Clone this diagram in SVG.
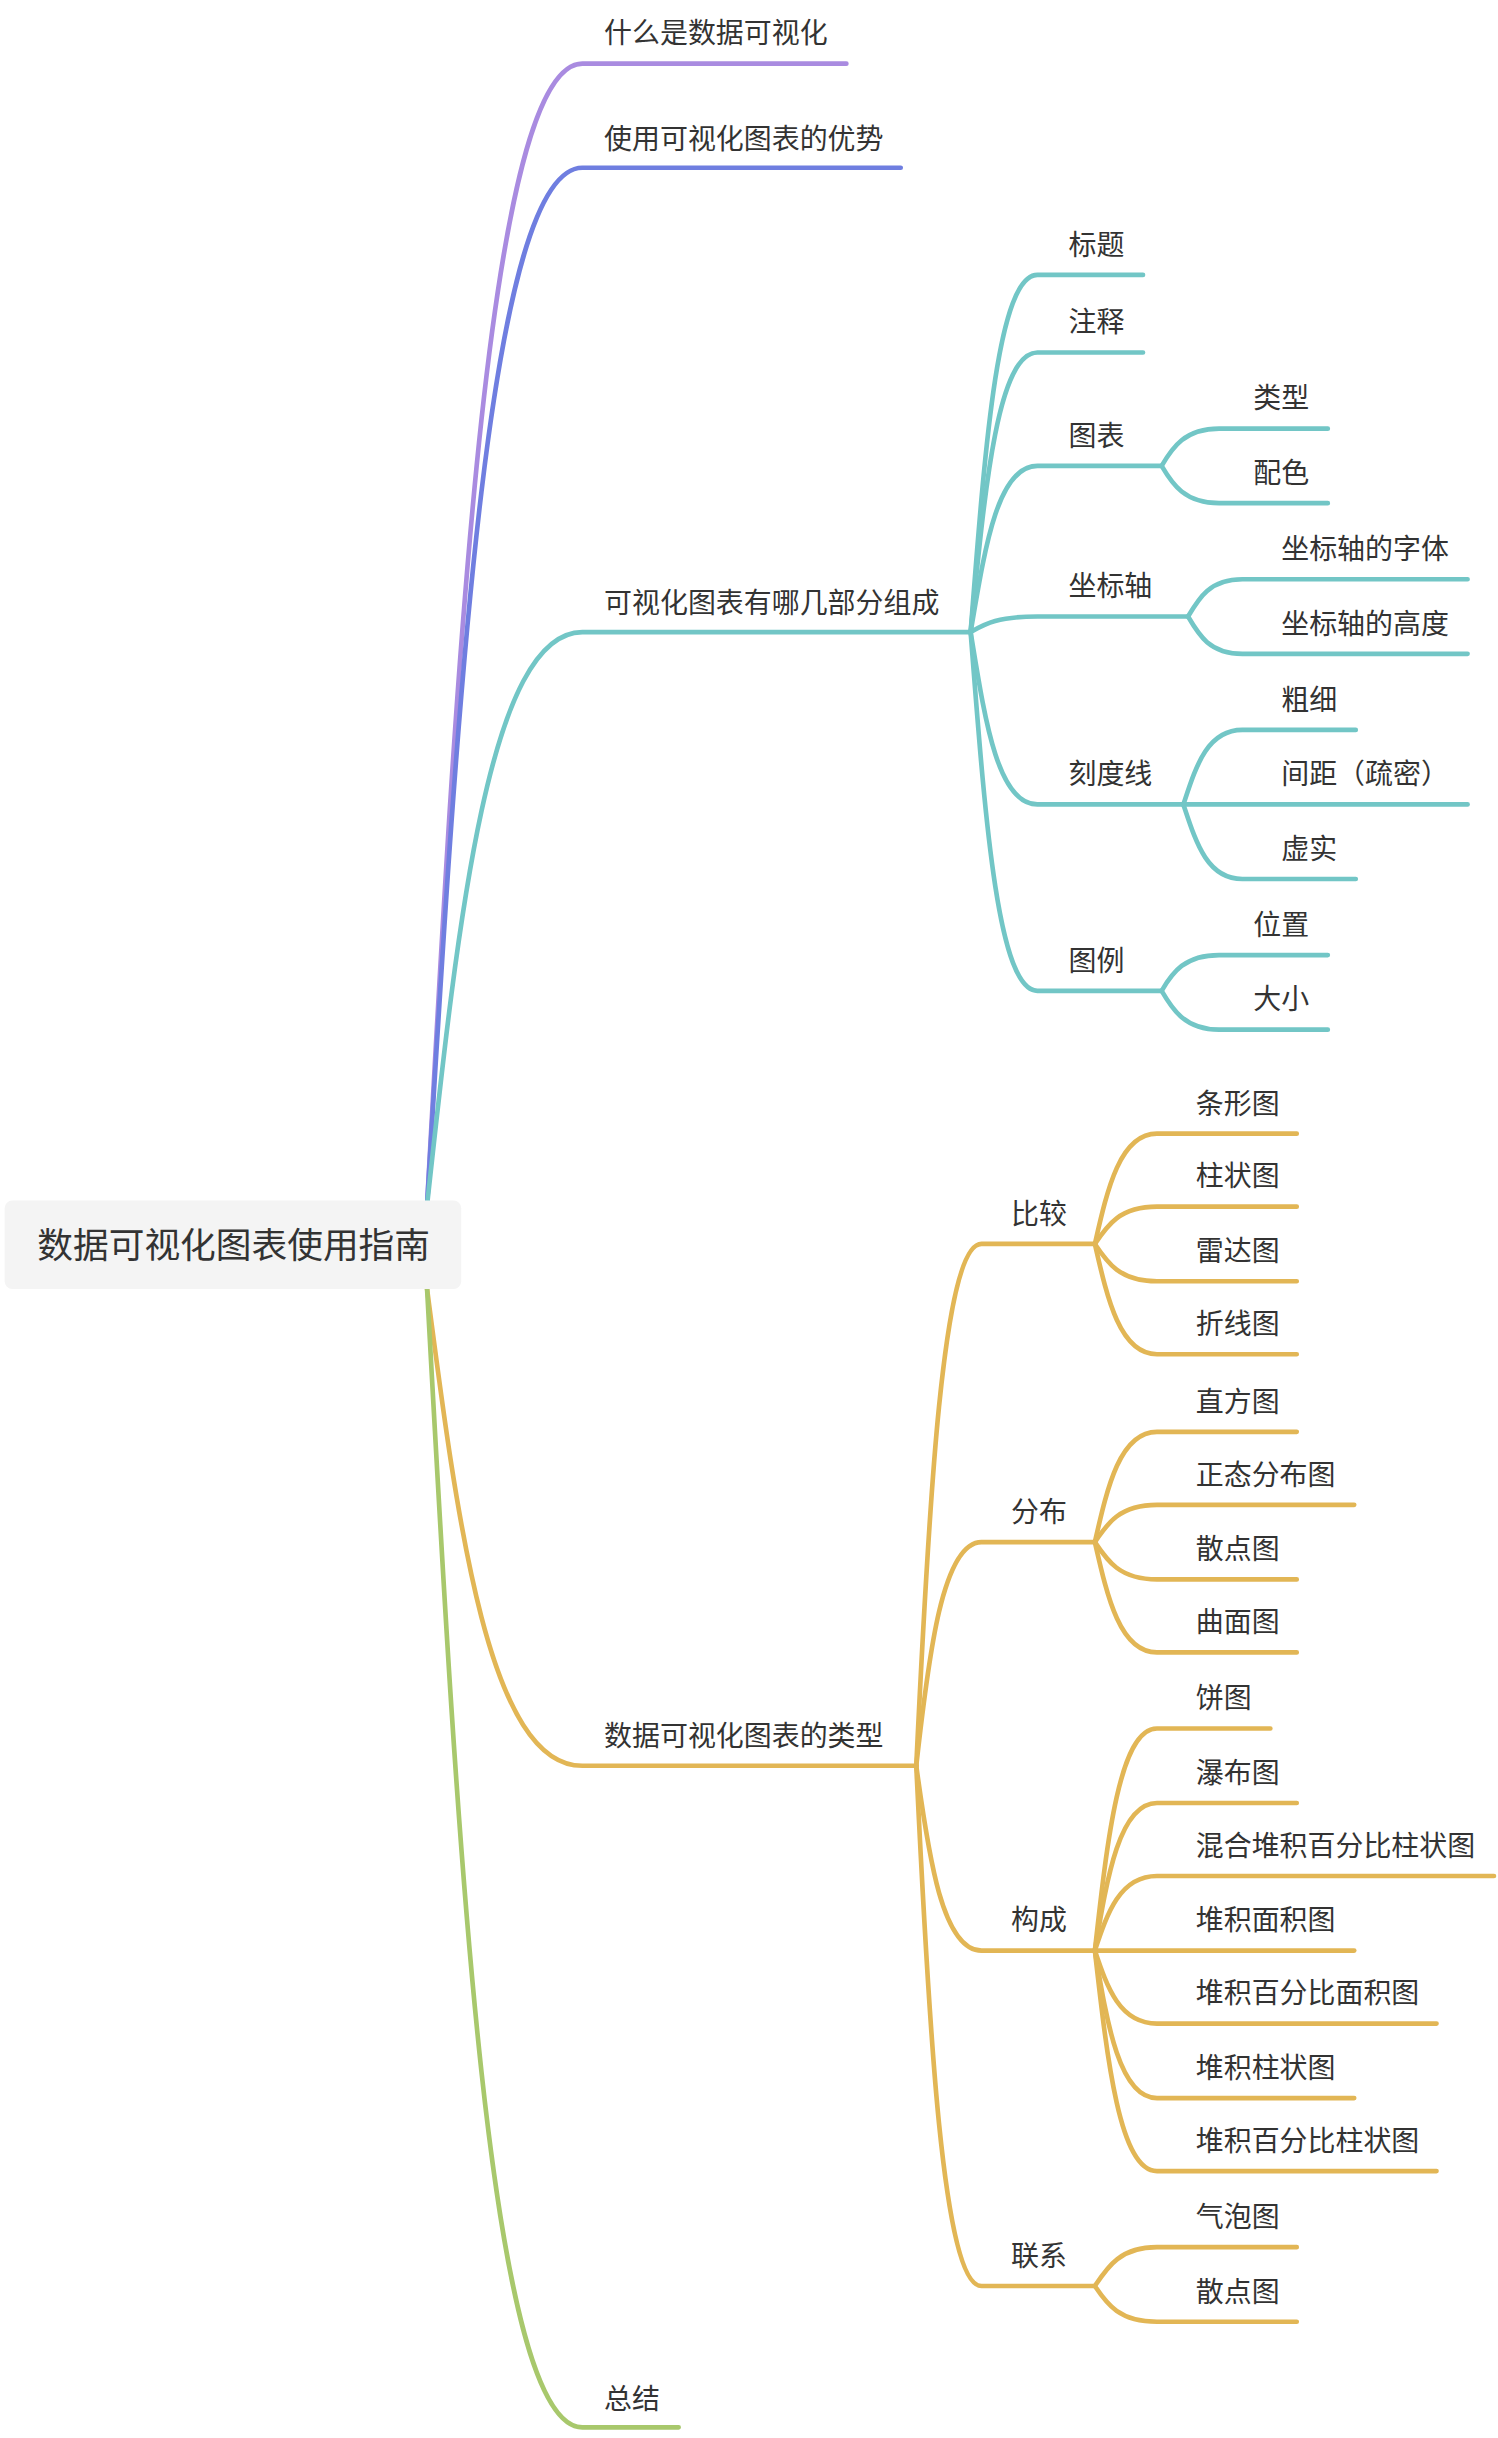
<svg xmlns="http://www.w3.org/2000/svg" width="1498" height="2438" viewBox="0 0 1498 2438">
<style>
text{font-family:"Noto Sans CJK SC","Noto Sans",sans-serif;font-size:18px;fill:#333}
.r{font-size:23px}
path{fill:none;stroke-width:3;stroke-linecap:round}
.pu{stroke:#a98be0}.bl{stroke:#6f7ee0}.te{stroke:#72c6c6}.go{stroke:#e2b655}.gr{stroke:#a8c86c}
</style>
<rect width="1498" height="2438" fill="#fff"/>
<g transform="scale(1.553)">
<g id="connectors">
<path class="pu" d="M275 776 C295 408 315 41 375 41 H545"/>
<path class="bl" d="M275 776 C295 442 315 108 375 108 H580"/>
<path class="te" d="M275 776 C295 592 315 407 375 407 H625"/>
<path class="go" d="M275 830 C295 984 315 1137 375 1137 H590"/>
<path class="gr" d="M275 830 C295 1196 315 1563 375 1563 H437"/>
<path class="te" d="M625 407 C634 292 642 177 668 177 H736"/>
<path class="te" d="M625 407 C634 317 642 227 668 227 H736"/>
<path class="te" d="M625 407 C634 354 642 300 668 300 H748"/>
<path class="te" d="M625 407 C634 402 642 397 668 397 H765"/>
<path class="te" d="M625 407 C634 462 642 518 668 518 H762"/>
<path class="te" d="M625 407 C634 522 642 638 668 638 H748"/>
<path class="te" d="M748 300 C755 288 763 276 785 276 H855"/>
<path class="te" d="M748 300 C755 312 763 324 785 324 H855"/>
<path class="te" d="M765 397 C772 385 779 373 800 373 H945"/>
<path class="te" d="M765 397 C772 409 779 421 800 421 H945"/>
<path class="te" d="M762 518 C770 494 777 470 800 470 H873"/>
<path class="te" d="M762 518 H945"/>
<path class="te" d="M762 518 C770 542 777 566 800 566 H873"/>
<path class="te" d="M748 638 C755 626 763 615 785 615 H855"/>
<path class="te" d="M748 638 C755 650 763 663 785 663 H855"/>
<path class="go" d="M590 1137 C598 969 607 801 632 801 H705"/>
<path class="go" d="M590 1137 C598 1065 607 993 632 993 H705"/>
<path class="go" d="M590 1137 C598 1196 607 1256 632 1256 H705"/>
<path class="go" d="M590 1137 C598 1304 607 1472 632 1472 H705"/>
<path class="go" d="M705 801 C713 766 721 730 745 730 H835"/>
<path class="go" d="M705 801 C713 789 721 777 745 777 H835"/>
<path class="go" d="M705 801 C713 813 721 825 745 825 H835"/>
<path class="go" d="M705 801 C713 836 721 872 745 872 H835"/>
<path class="go" d="M705 993 C713 958 721 922 745 922 H835"/>
<path class="go" d="M705 993 C713 981 721 969 745 969 H872"/>
<path class="go" d="M705 993 C713 1005 721 1017 745 1017 H835"/>
<path class="go" d="M705 993 C713 1028 721 1064 745 1064 H835"/>
<path class="go" d="M705 1256 C713 1184 721 1113 745 1113 H818"/>
<path class="go" d="M705 1256 C713 1208 721 1161 745 1161 H835"/>
<path class="go" d="M705 1256 C713 1232 721 1208 745 1208 H962"/>
<path class="go" d="M705 1256 H872"/>
<path class="go" d="M705 1256 C713 1280 721 1303 745 1303 H925"/>
<path class="go" d="M705 1256 C713 1304 721 1351 745 1351 H872"/>
<path class="go" d="M705 1256 C713 1327 721 1398 745 1398 H925"/>
<path class="go" d="M705 1472 C713 1460 721 1447 745 1447 H835"/>
<path class="go" d="M705 1472 C713 1484 721 1495 745 1495 H835"/>
</g>
<g id="root"><rect x="3" y="773" width="294" height="57" rx="5" fill="#f4f4f4"/><text class="r" x="24" y="810">数据可视化图表使用指南</text></g>
<g id="n1"><text x="389" y="28">什么是数据可视化</text></g>
<g id="n2"><text x="389" y="96">使用可视化图表的优势</text></g>
<g id="n3"><text x="389" y="395">可视化图表有哪几部分组成</text></g>
<g id="n4"><text x="389" y="1124">数据可视化图表的类型</text></g>
<g id="n5"><text x="389" y="1551">总结</text></g>
<g id="t1"><text x="688" y="164">标题</text></g>
<g id="t2"><text x="688" y="214">注释</text></g>
<g id="t3"><text x="688" y="287">图表</text></g>
<g id="t4"><text x="688" y="384">坐标轴</text></g>
<g id="t5"><text x="688" y="505">刻度线</text></g>
<g id="t6"><text x="688" y="625">图例</text></g>
<g id="t31"><text x="807" y="263">类型</text></g>
<g id="t32"><text x="807" y="311">配色</text></g>
<g id="t41"><text x="825" y="360">坐标轴的字体</text></g>
<g id="t42"><text x="825" y="408">坐标轴的高度</text></g>
<g id="t51"><text x="825" y="457">粗细</text></g>
<g id="t52"><text x="825" y="505">间距（疏密）</text></g>
<g id="t53"><text x="825" y="553">虚实</text></g>
<g id="t61"><text x="807" y="602">位置</text></g>
<g id="t62"><text x="807" y="650">大小</text></g>
<g id="g1"><text x="651" y="788">比较</text></g>
<g id="g2"><text x="651" y="980">分布</text></g>
<g id="g3"><text x="651" y="1243">构成</text></g>
<g id="g4"><text x="651" y="1459">联系</text></g>
<g id="g11"><text x="770" y="717">条形图</text></g>
<g id="g12"><text x="770" y="764">柱状图</text></g>
<g id="g13"><text x="770" y="812">雷达图</text></g>
<g id="g14"><text x="770" y="859">折线图</text></g>
<g id="g21"><text x="770" y="909">直方图</text></g>
<g id="g22"><text x="770" y="956">正态分布图</text></g>
<g id="g23"><text x="770" y="1004">散点图</text></g>
<g id="g24"><text x="770" y="1051">曲面图</text></g>
<g id="g31"><text x="770" y="1100">饼图</text></g>
<g id="g32"><text x="770" y="1148">瀑布图</text></g>
<g id="g33"><text x="770" y="1195">混合堆积百分比柱状图</text></g>
<g id="g34"><text x="770" y="1243">堆积面积图</text></g>
<g id="g35"><text x="770" y="1290">堆积百分比面积图</text></g>
<g id="g36"><text x="770" y="1338">堆积柱状图</text></g>
<g id="g37"><text x="770" y="1385">堆积百分比柱状图</text></g>
<g id="g41"><text x="770" y="1434">气泡图</text></g>
<g id="g42"><text x="770" y="1482">散点图</text></g>
</g>
</svg>
